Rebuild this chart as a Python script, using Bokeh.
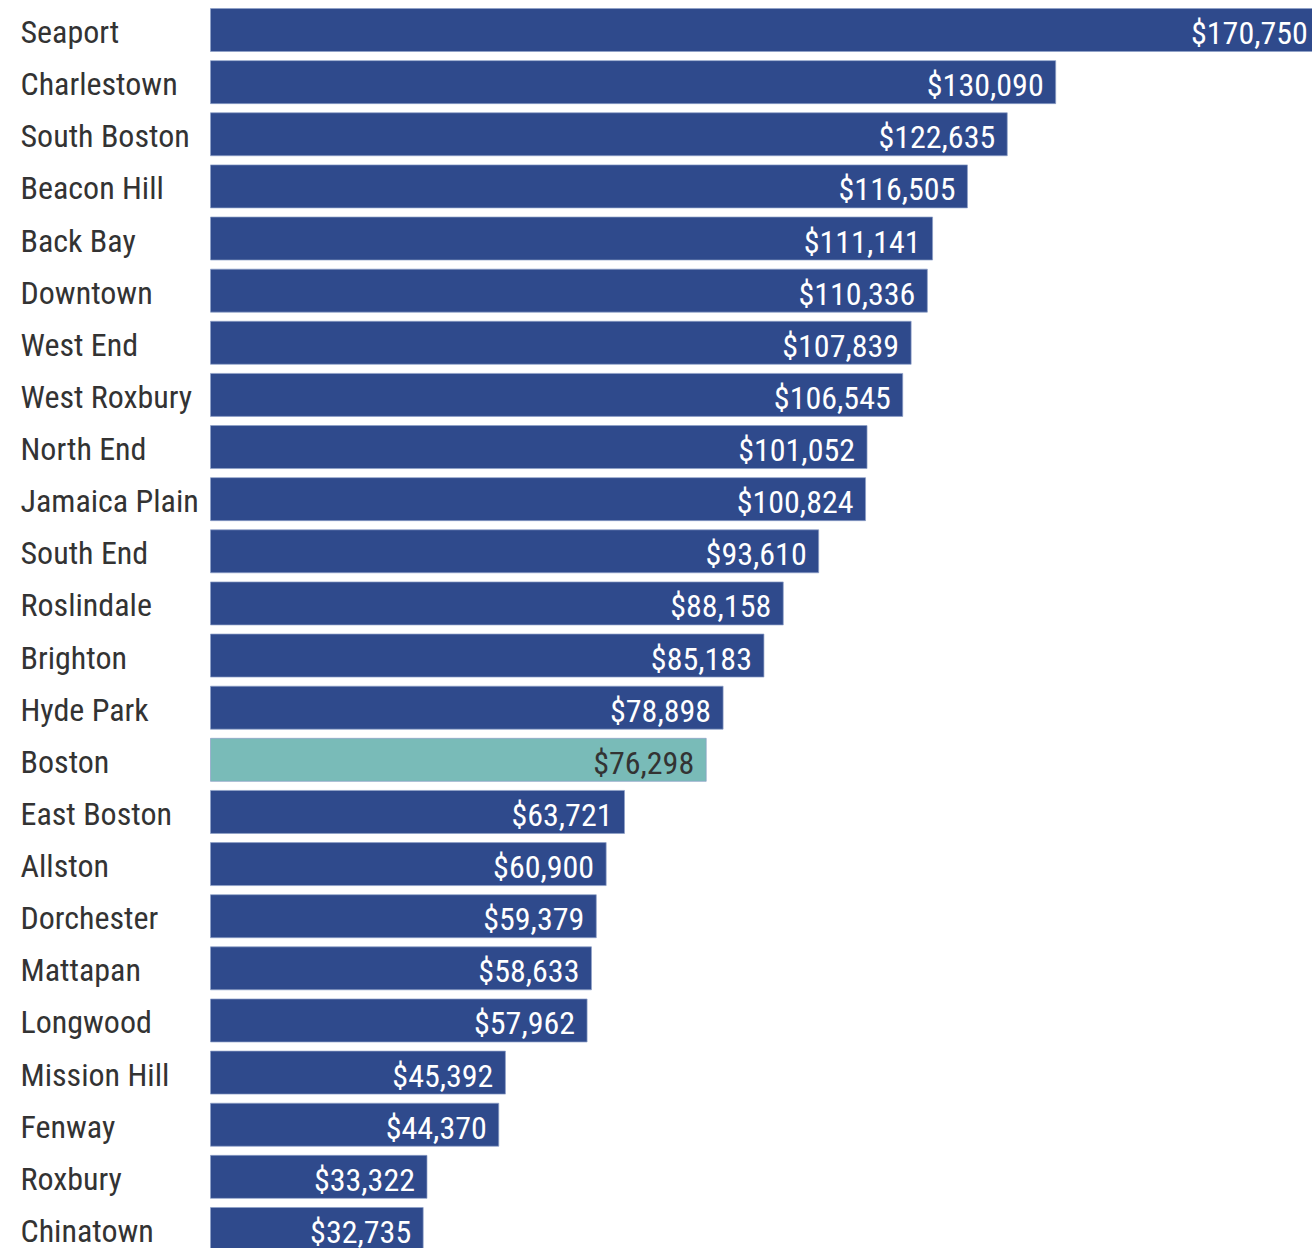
from bokeh.plotting import figure
from bokeh.models import ColumnDataSource, Range1d
from bokeh.core.properties import value
from bokeh.embed import file_html
from bokeh.resources import INLINE

neighborhoods = ["Seaport", "Charlestown", "South Boston", "Beacon Hill", "Back Bay",
                 "Downtown", "West End", "West Roxbury", "North End", "Jamaica Plain",
                 "South End", "Roslindale", "Brighton", "Hyde Park", "Boston",
                 "East Boston", "Allston", "Dorchester", "Mattapan", "Longwood",
                 "Mission Hill", "Fenway", "Roxbury", "Chinatown"]
incomes = [170750, 130090, 122635, 116505, 111141, 110336, 107839, 106545, 101052,
           100824, 93610, 88158, 85183, 78898, 76298, 63721, 60900, 59379, 58633,
           57962, 45392, 44370, 33322, 32735]
highlight = "Boston"

W, H = 1312, 1248
px_per_dollar = 0.006497
bar_left_px = 210
top_px = 8
pitch_px = 52.13
bar_h_px = 43

x_start = -bar_left_px / px_per_dollar
x_end = x_start + W / px_per_dollar
half = bar_h_px / pitch_px / 2
y_top = -half - top_px / pitch_px
y_bottom = y_top + H / pitch_px

FONT = value("Roboto Condensed, Liberation Sans Narrow, DejaVu Sans Condensed, Roboto")

idx = list(range(len(neighborhoods)))
colors = ["#79bbb8" if n == highlight else "#2f4a8c" for n in neighborhoods]
label_colors = ["#333333" if n == highlight else "#ffffff" for n in neighborhoods]
labels = ["${:,}".format(v) for v in incomes]

src = ColumnDataSource(dict(y=idx, v=incomes, name=neighborhoods, color=colors,
                            lc=label_colors, lab=labels,
                            x0=[x_start] * len(idx)))

p = figure(width=W, height=H, output_backend="svg", toolbar_location=None,
           x_range=Range1d(x_start, x_end), y_range=Range1d(y_bottom, y_top),
           min_border=0, min_border_left=0, min_border_right=0,
           min_border_top=0, min_border_bottom=0)
p.outline_line_color = None
p.axis.visible = False
p.grid.visible = False
p.background_fill_color = "white"
p.border_fill_color = "white"

p.hbar(y="y", left=0, right="v", height=bar_h_px / pitch_px, fill_color="color",
       line_color="#8da0c8", line_alpha=0.7, line_width=1, source=src)

p.text(x="v", y="y", text="lab", text_color="lc", x_offset=-12, y_offset=3,
       text_align="right", text_baseline="middle", text_font=FONT,
       text_font_size="32px", source=src)

p.text(x="x0", y="y", text="name", text_color="#333333", x_offset=20, y_offset=2,
       text_align="left", text_baseline="middle", text_font=FONT,
       text_font_size="32px", source=src)

open("out.html", "w").write(file_html(p, INLINE))
